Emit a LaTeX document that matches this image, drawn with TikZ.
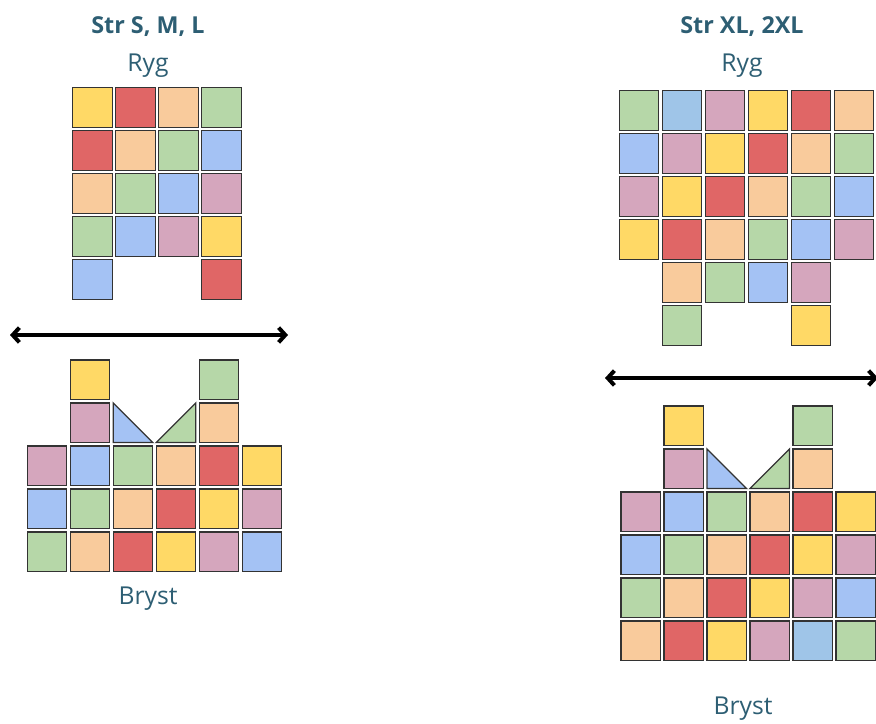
\documentclass[tikz,border=0pt]{standalone}
\usepackage{fontspec}
\setmainfont{Open Sans}
\usetikzlibrary{arrows.meta}

% colours of the squares
\definecolor{yel}{HTML}{FFD966}
\definecolor{red}{HTML}{E06666}
\definecolor{pch}{HTML}{F9CB9C}
\definecolor{grn}{HTML}{B6D7A8}
\definecolor{blu}{HTML}{A4C2F4}
\definecolor{pnk}{HTML}{D5A6BD}
\definecolor{sky}{HTML}{9FC5E8}
\definecolor{ttl}{RGB}{45,94,115}

\tikzset{
  cell/.style={draw=black!80, line width=1pt},
  lbl/.style={text=ttl, font=\fontsize{18.5}{22}\selectfont},
  head/.style={lbl, font=\fontsize{17.5}{21}\selectfont\bfseries},
  wide/.style={line width=3pt, {Straight Barb[length=5pt,width=11pt]}-{Straight Barb[length=5pt,width=11pt]}}
}

% one square, top left corner at (#1,#2)
\newcommand{\sq}[3]{\draw[cell, fill=#3] (#1,#2) rectangle ++(39.5,39.5);}

\begin{document}
\begin{tikzpicture}[x=0.75pt, y=-0.75pt]
\useasboundingbox (0,0) rectangle (876,724);

% Titles
\node[head] (t1) at (148,27) {Str S, M, L};
\node[lbl] (r1) at (148,66) {Ryg};
\node[head] (t2) at (742,27) {Str XL, 2XL};
\node[lbl] (r2) at (742,66) {Ryg};

% Left back (Ryg)
\foreach \row [count=\j from 0] in {{yel,red,pch,grn},{red,pch,grn,blu},{pch,grn,blu,pnk},{grn,blu,pnk,yel}}
  \foreach \c [count=\i from 0] in \row
    {\sq{72.7+43*\i}{87.7+43*\j}{\c}}
\foreach \i/\c in {0/blu,3/red}
  {\sq{72.7+43*\i}{87.7+43*4}{\c}}

% Left arrow
\coordinate (la) at (10,335);
\coordinate (lb) at (288,335);
\draw[wide] (la) -- (lb);

% Left front (Bryst)
\foreach \i/\c in {1/yel,4/grn}
  {\sq{27.3+43*\i}{360}{\c}}
\foreach \i/\c in {1/pnk,4/pch}
  {\sq{27.3+43*\i}{403}{\c}}
\draw[cell, fill=blu] (113.3,403) -- (113.3,442.5) -- (152.8,442.5) -- cycle;
\draw[cell, fill=grn] (195.8,403) -- (195.8,442.5) -- (156.3,442.5) -- cycle;
\foreach \row [count=\j from 2] in {{pnk,blu,grn,pch,red,yel},{blu,grn,pch,red,yel,pnk},{grn,pch,red,yel,pnk,blu}}
  \foreach \c [count=\i from 0] in \row
    {\sq{27.3+43*\i}{360+43*\j}{\c}}
\node[lbl] (b1) at (148,599) {Bryst};

% Right back (Ryg)
\foreach \row [count=\j from 0] in {{grn,sky,pnk,yel,red,pch},{blu,pnk,yel,red,pch,grn},{pnk,yel,red,pch,grn,blu},{yel,red,pch,grn,blu,pnk}}
  \foreach \c [count=\i from 0] in \row
    {\sq{619.3+43*\i}{90.7+43*\j}{\c}}
\foreach \i/\c in {1/pch,2/grn,3/blu,4/pnk}
  {\sq{619.3+43*\i}{90.7+43*4}{\c}}
\foreach \i/\c in {1/grn,4/yel}
  {\sq{619.3+43*\i}{90.7+43*5}{\c}}

% Right arrow
\coordinate (ra) at (605,378);
\coordinate (rb) at (878,378);
\draw[wide] (ra) -- (rb);

% Right front (Bryst)
\foreach \i/\c in {1/yel,4/grn}
  {\sq{621+43*\i}{406}{\c}}
\foreach \i/\c in {1/pnk,4/pch}
  {\sq{621+43*\i}{449}{\c}}
\draw[cell, fill=blu] (707,449) -- (707,488.5) -- (746.5,488.5) -- cycle;
\draw[cell, fill=grn] (789.5,449) -- (789.5,488.5) -- (750,488.5) -- cycle;
\foreach \row [count=\j from 2] in {{pnk,blu,grn,pch,red,yel},{blu,grn,pch,red,yel,pnk},{grn,pch,red,yel,pnk,blu},{pch,red,yel,pnk,sky,grn}}
  \foreach \c [count=\i from 0] in \row
    {\sq{621+43*\i}{406+43*\j}{\c}}
\node[lbl] (b2) at (743,709) {Bryst};

\end{tikzpicture}
\end{document}
